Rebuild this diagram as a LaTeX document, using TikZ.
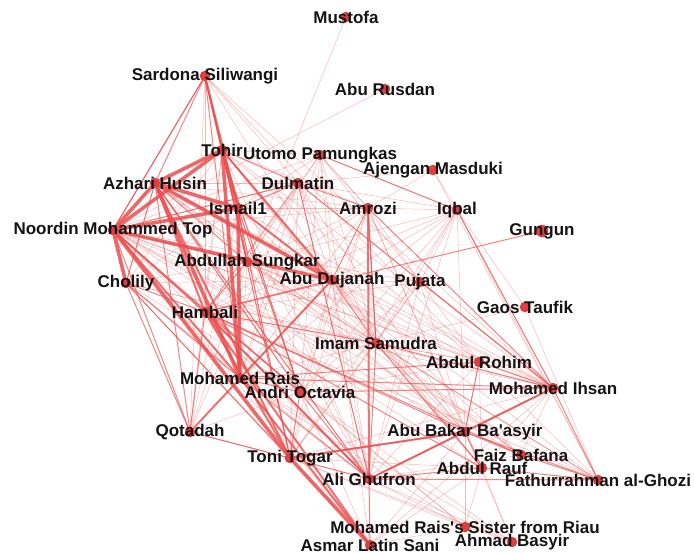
\documentclass[tikz,border=0pt]{standalone}
\usepackage{fontspec}
\setmainfont{Liberation Sans}[Ligatures=TeXOff]
\usetikzlibrary{backgrounds}
\definecolor{TieRed}{RGB}{236,78,78}
\definecolor{DotRed}{RGB}{226,62,62}
\definecolor{LabelInk}{RGB}{20,20,20}

\begin{document}
\begin{tikzpicture}[
        x=1pt, y=-1pt,
        person/.style={circle, fill=DotRed, draw=DotRed!80!black, line width=0.3pt, inner sep=0pt, minimum size=10pt},
        tag/.style={font=\fontsize{17}{18}\selectfont\bfseries, text=LabelInk, inner sep=0pt},
        heavy/.style={TieRed, line width=3.6pt, opacity=0.85},
        strong/.style={TieRed, line width=2pt, opacity=0.8},
        medium/.style={TieRed, line width=1pt, opacity=0.7},
        faint/.style={TieRed, line width=0.5pt, opacity=0.4}
      ]
        \useasboundingbox (0,0) rectangle (694,554);

        % People
        \node[person] (mus) at (346,17) {};
        \node[person] (sar) at (205,76) {};
        \node[person] (rus) at (385,89) {};
        \node[person] (toh) at (222,150) {};
        \node[person] (uto) at (320,155) {};
        \node[person] (aje) at (433,170) {};
        \node[person] (azh) at (155,183) {};
        \node[person] (dul) at (298,183) {};
        \node[person] (ism) at (238,208) {};
        \node[person] (amr) at (368,208) {};
        \node[person] (iqb) at (457,210) {};
        \node[person, minimum size=12pt] (gun) at (542,231) {};
        \node[person] (noo) at (113,230) {};
        \node[person] (sun) at (247,262) {};
        \node[person] (duj) at (332,280) {};
        \node[person] (puj) at (420,282) {};
        \node[person] (cho) at (126,283) {};
        \node[person] (ham) at (205,312) {};
        \node[person] (gao) at (525,307) {};
        \node[person] (ims) at (376,343) {};
        \node[person] (roh) at (479,362) {};
        \node[person] (ihs) at (553,388) {};
        \node[person] (rai) at (240,378) {};
        \node[person] (and) at (300,392) {};
        \node[person] (qot) at (190,432) {};
        \node[person] (bas) at (465,432) {};
        \node[person] (ton) at (290,458) {};
        \node[person] (fai) at (521,455) {};
        \node[person] (rau) at (482,468) {};
        \node[person] (ghu) at (369,479) {};
        \node[person] (gho) at (598,480) {};
        \node[person] (sis) at (465,527) {};
        \node[person] (asm) at (370,545) {};
        \node[person] (bsy) at (512,542) {};

        % Ties
        \begin{scope}[on background layer]
          \foreach \a/\b in {mus/sun, rus/noo, sar/roh, sar/ihs, sar/duj, sar/dul, sar/ham, sar/qot,
              uto/toh, uto/ism, uto/amr, uto/iqb, uto/duj, uto/puj, uto/ims, uto/sun, uto/ham, uto/rai, uto/and, uto/ghu, uto/noo,
              aje/iqb, aje/gho, aje/amr, aje/dul,
              iqb/amr, iqb/dul, iqb/puj, iqb/ims, iqb/ghu, iqb/and, iqb/ton, iqb/gao, iqb/gho, iqb/ihs, iqb/sun, iqb/duj, iqb/rai, iqb/ham,
              gao/ims, gao/gho,
              amr/uto, amr/puj, amr/ham, amr/sun, amr/ton, amr/and, amr/rai, amr/noo, amr/azh, amr/toh, amr/ism, amr/bas, amr/rau,
              dul/noo, dul/azh, dul/ims, dul/ghu, dul/rai, dul/ham, dul/ton, dul/ihs, dul/bas, dul/qot,
              puj/noo, puj/ims, puj/ghu, puj/ihs, puj/roh, puj/ham, puj/ton, puj/and, puj/bas,
              roh/ims, roh/bas, roh/ham, roh/noo, roh/azh, roh/ghu, roh/rau, roh/gho, roh/sun, roh/toh, roh/and,
              ims/noo, ims/azh, ims/sun, ims/rau, ims/and, ims/rai, ims/ton, ims/toh, ims/ism, ims/cho, ims/gho, ims/fai,
              ihs/noo, ihs/azh, ihs/toh, ihs/ism, ihs/sun, ihs/duj, ihs/puj, ihs/fai, ihs/rau, ihs/ton, ihs/asm, ihs/ham, ihs/cho,
              bas/noo, bas/duj, bas/sun, bas/sis, bas/ims, bas/asm, bas/iqb, bas/toh, bas/azh,
              rau/duj, rau/asm, rau/bsy, rau/sis, rau/noo, rau/toh, rau/ton,
              fai/sun, fai/noo, fai/duj, fai/ghu, fai/azh,
              gho/ham, gho/ims, gho/noo, gho/duj, gho/sun,
              sis/rai, sis/ghu, sis/asm, sis/bsy, sis/ton, sis/and, sis/ham,
              bsy/ghu, bsy/bas, bsy/ton, bsy/rai, bsy/and,
              ghu/sun, ghu/toh, ghu/ism, ghu/duj, ghu/noo, ghu/azh, ghu/cho, ghu/qot,
              asm/noo, asm/cho, asm/rai, asm/and, asm/duj,
              ton/qot, ton/sun, ton/ism, ton/duj, ton/cho,
              and/noo, and/azh, and/toh, and/duj, and/cho, and/sun, and/ism,
              rai/ism, rai/sun, rai/duj, rai/cho,
              qot/toh, qot/ism, qot/sun, qot/and,
              ham/toh, ham/ism, ham/dul,
              cho/toh, cho/ism, cho/sun, cho/duj, cho/azh,
              sun/toh, sun/ism, sun/dul, duj/dul, duj/ism, duj/toh, duj/puj}
            \draw[faint] (\a) -- (\b);
          \foreach \a/\b in {sar/noo, sar/azh, sar/rai, sar/sun, gun/ham, amr/ims, amr/dul, amr/duj, iqb/uto,
              ihs/rai, ihs/and, ihs/ims, ihs/roh, ihs/bas, ihs/gho, ihs/amr, ihs/dul, ihs/iqb,
              bas/ham, bas/ton, bas/rau, bas/fai, bas/gho, bas/roh, bas/ghu,
              rau/ims, rau/ham, rau/ghu, rau/gho, fai/ham, fai/gho, gho/ghu,
              ghu/ims, ghu/ham, ghu/and, ghu/asm, ghu/rai, ghu/dul,
              ims/ham, ims/duj, ims/amr, roh/rai,
              noo/qot, noo/sun, noo/and, noo/dul, noo/sar,
              azh/cho, azh/sun, azh/and, azh/ghu, azh/qot,
              toh/dul, toh/sun, toh/and, toh/ton, ism/dul, ism/sun, ism/and, ism/ton,
              cho/qot, cho/ham, cho/ton, cho/rai, ham/qot, ham/sun, ham/duj, ham/and,
              qot/ton, rai/and, ton/ghu, ton/and}
            \draw[medium] (\a) -- (\b);
          \foreach \a/\b in {sar/toh, sar/ism, noo/ham, noo/rai, azh/ham, azh/ton,
              toh/duj, ism/duj, qot/duj, ghu/amr, ghu/ihs, ham/ton, ham/asm, ham/ghu, rai/asm, ton/bas}
            \draw[strong] (\a) -- (\b);
          \foreach \a/\b in {noo/azh, noo/ism, noo/toh, noo/cho, noo/duj, noo/ton,
              azh/toh, azh/ism, azh/duj, azh/rai, toh/ism, toh/rai, ton/asm, ism/rai}
            \draw[heavy] (\a) -- (\b);
        \end{scope}

        % Names
        \node[tag] (mus-l) at (mus) {Mustofa};
        \node[tag] (sar-l) at (sar) {Sardona Siliwangi};
        \node[tag] (rus-l) at (rus) {Abu Rusdan};
        \node[tag] (toh-l) at (toh) {Tohir};
        \node[tag] (uto-l) at (uto) {Utomo Pamungkas};
        \node[tag] (aje-l) at (aje) {Ajengan Masduki};
        \node[tag] (azh-l) at (azh) {Azhari Husin};
        \node[tag] (dul-l) at (dul) {Dulmatin};
        \node[tag] (ism-l) at (ism) {Ismail1};
        \node[tag] (amr-l) at (amr) {Amrozi};
        \node[tag] (iqb-l) at (iqb) {Iqbal};
        \node[tag] (gun-l) at (gun) {Gungun};
        \node[tag] (noo-l) at (noo) {Noordin Mohammed Top};
        \node[tag] (sun-l) at (sun) {Abdullah Sungkar};
        \node[tag] (duj-l) at (duj) {Abu Dujanah};
        \node[tag] (puj-l) at (puj) {Pujata};
        \node[tag] (cho-l) at (cho) {Cholily};
        \node[tag] (ham-l) at (ham) {Hambali};
        \node[tag] (gao-l) at (gao) {Gaos Taufik};
        \node[tag] (ims-l) at (ims) {Imam Samudra};
        \node[tag] (roh-l) at (roh) {Abdul Rohim};
        \node[tag] (ihs-l) at (ihs) {Mohamed Ihsan};
        \node[tag] (rai-l) at (rai) {Mohamed Rais};
        \node[tag] (and-l) at (and) {Andri Octavia};
        \node[tag] (qot-l) at (qot) {Qotadah};
        \node[tag] (bas-l) at (bas) {Abu Bakar Ba'asyir};
        \node[tag] (ton-l) at (ton) {Toni Togar};
        \node[tag] (fai-l) at (fai) {Faiz Bafana};
        \node[tag] (rau-l) at (rau) {Abdul Rauf};
        \node[tag] (ghu-l) at (ghu) {Ali Ghufron};
        \node[tag] (gho-l) at (gho) {Fathurrahman al-Ghozi};
        \node[tag] (sis-l) at (sis) {Mohamed Rais's Sister from Riau};
        \node[tag] (asm-l) at (asm) {Asmar Latin Sani};
        \node[tag] (bsy-l) at (bsy) {Ahmad Basyir};
      \end{tikzpicture}
\end{document}
